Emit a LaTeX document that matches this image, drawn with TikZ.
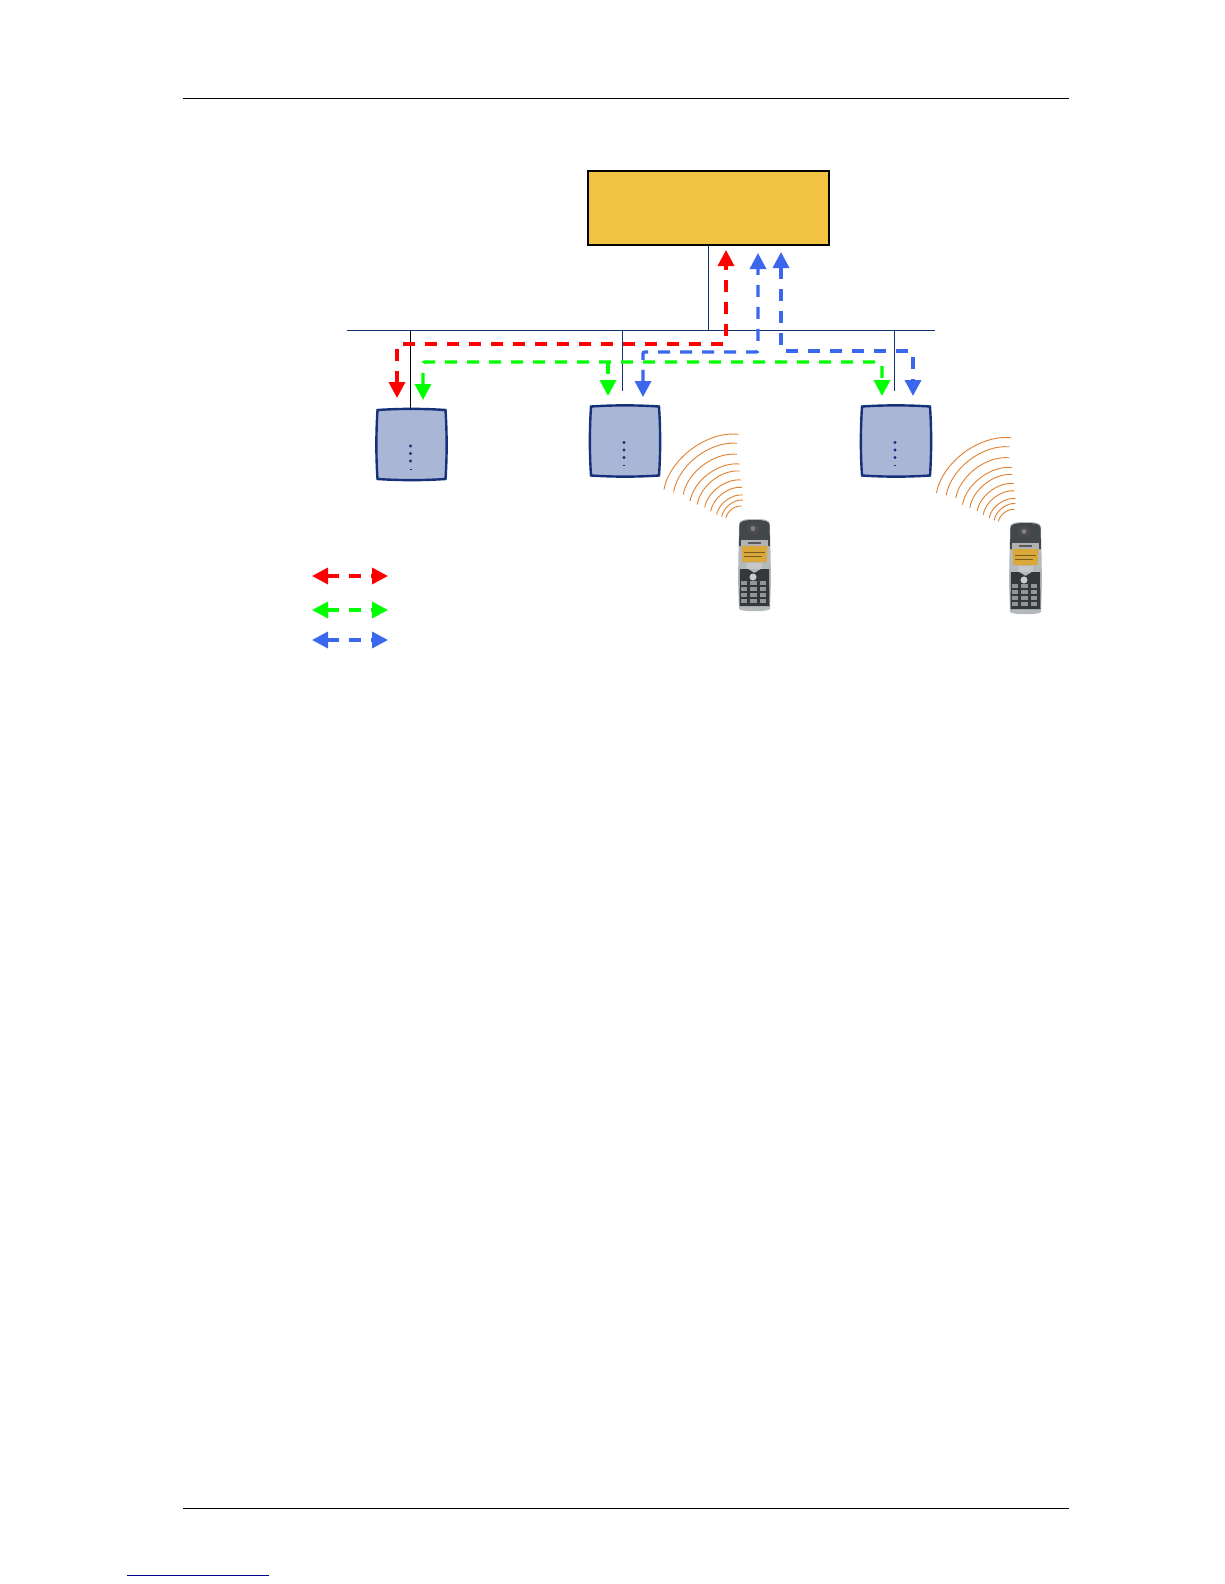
\documentclass[tikz,border=0pt]{standalone}
\usetikzlibrary{arrows.meta}
\definecolor{srvfill}{HTML}{F2C342}
\definecolor{netnavy}{HTML}{10306E}
\definecolor{devfill}{HTML}{A9B6D6}
\definecolor{devline}{HTML}{16307A}
\definecolor{arcorange}{HTML}{E0802F}
\definecolor{sigblue}{HTML}{3A67EE}
\definecolor{siggreen}{HTML}{00FF00}
\definecolor{sigred}{HTML}{FF0000}
\definecolor{phdark}{HTML}{42474A}
\definecolor{phkey}{HTML}{33383B}
\definecolor{phsilver}{HTML}{B4B9BC}
\definecolor{phscreen}{HTML}{D9A838}
\tikzset{
  rule/.style={line width=.8pt,black},
  linkrule/.style={line width=1pt,color=blue!55!black},
  net/.style={line width=1pt,netnavy},
  drop/.style={line width=1pt,black!85!netnavy},
  signal/.style={line width=3.4pt,line cap=butt,rounded corners=2pt,dash pattern=on 12pt off 10pt},
  onehead/.style={-{Triangle[length=16pt,width=16pt]}},
  twohead/.style={{Triangle[length=16pt,width=16pt]}-{Triangle[length=16pt,width=16pt]}},
  wave/.style={line width=.9pt,arcorange,line cap=round},
  anchorbox/.style={minimum width=69pt,minimum height=71pt,inner sep=0pt,outer sep=0pt},
  devicepic/.pic={
    \draw[line width=2.4pt,devline,fill=devfill]
      (0.5,1) .. controls (23,-0.5) and (46,-0.5) .. (68.5,1)
      .. controls (70,24) and (70,48) .. (68.5,70)
      .. controls (46,71.5) and (23,71.5) .. (0.5,70)
      .. controls (-1,48) and (-1,24) .. (0.5,1) -- cycle;
    \foreach \yy in {37,44.5,52} \fill[devline] (33.5,\yy) circle[radius=1.6pt];
    \draw[devline,line width=.8pt] (32.5,60) -- (34.5,60);
  },
  wavespic/.pic={
    \foreach \sx/\sy/\ex/\ey in {664/489.3/738.3/434.3,673.7/491.7/736.7/443.3,683.3/494.3/736.7/454.3,690/501/739.3/464,697.3/504.3/739.3/471,704.7/507.3/741/480,710.7/511/741.7/487.3,716.7/514.3/742.7/495,721.7/516.7/742.7/500,726/517.7/741.7/506}{
      \pgfmathsetmacro{\ddx}{\ex-\sx}
      \pgfmathsetmacro{\ddy}{\ey-\sy}
      \pgfmathsetmacro{\cax}{\sx+.25*\ddx+.23*\ddy}
      \pgfmathsetmacro{\cay}{\sy+.25*\ddy-.23*\ddx}
      \pgfmathsetmacro{\cbx}{\sx+.75*\ddx+.23*\ddy}
      \pgfmathsetmacro{\cby}{\sy+.75*\ddy-.23*\ddx}
      \draw[wave] (\sx,\sy) .. controls (\cax,\cay) and (\cbx,\cby) .. (\ex,\ey);
    }
  },
  phonepic/.pic={
    \fill[phsilver] (1,5) .. controls (1,1) and (6,0) .. (16.5,0) .. controls (27,0) and (32,1) .. (32,5)
      -- (33,60) -- (32,90) .. controls (30,93) and (3,93) .. (1,90) -- (0,60) -- cycle;
    \fill[phdark] (1.5,6) .. controls (1.5,2) and (7,1) .. (16.5,1) .. controls (26,1) and (31.5,2) .. (31.5,6)
      -- (32,27) -- (1,27) -- cycle;
    \fill[black!70] (15,9.5) circle[radius=6pt];
    \fill[black!50] (15,9.5) circle[radius=2.5pt];
    \fill[black!30] (3,21) rectangle (30,27);
    \fill[black!65] (10,22.5) rectangle (23,24.5);
    \fill[phscreen] (3.5,27) -- (29.5,27) -- (28.5,43) -- (4.5,43) -- cycle;
    \fill[black!45!phscreen] (6,33) rectangle (27,34);
    \fill[black!45!phscreen] (6,37) rectangle (24,37.8);
    \fill[phkey] (2,50) -- (10,50) -- (16.5,54) -- (23,50) -- (31,50) -- (31.5,87) -- (1.5,87) -- cycle;
    \fill[white!80!black] (15,58) circle[radius=3.5pt];
    \fill[black!22] (9,44) rectangle (24,50);
    \foreach \ky in {64,70,76,82}
      \foreach \kx in {6,15.5,25}
        \fill[black!42] (\kx-3.2,\ky-1.6) rectangle (\kx+3.2,\ky+1.6);
  },
}
\begin{document}
\begin{tikzpicture}[x=1pt,y=-1pt]
\useasboundingbox (0,0) rectangle (1224,1584);

% page rules
\coordinate (headL) at (183,98);   \coordinate (headR) at (1069,98);
\coordinate (footL) at (183,1508); \coordinate (footR) at (1069,1508);
\coordinate (linkL) at (127,1575); \coordinate (linkR) at (269,1575);
\draw[rule] (headL) -- (headR);
\draw[rule] (footL) -- (footR);
\draw[linkrule] (linkL) -- (linkR);

% server
\node[draw=black,line width=2.2pt,fill=srvfill,minimum width=241pt,minimum height=74pt,inner sep=0pt,outer sep=0pt] (srv) at (708.5,208) {};

% access points
\node[anchorbox] (ap1) at (411.5,444.5) {};
\node[anchorbox] (ap2) at (625,441) {};
\node[anchorbox] (ap3) at (896,441) {};
\pic at (ap1.north west) {devicepic};
\pic at (ap2.north west) {devicepic};
\pic at (ap3.north west) {devicepic};

% network
\coordinate (busL) at (347,330); \coordinate (busR) at (935,330);
\coordinate (tap1) at (410,330); \coordinate (tap2) at (622,330); \coordinate (tap3) at (894,330);
\coordinate (end2) at (622,391); \coordinate (end3) at (894,391);
\draw[net] (busL) -- (busR);
\draw[net] (srv.south) -- (srv.south |- busL);
\draw[drop] (tap1) -- (tap1 |- ap1.north);
\draw[net] (tap2) -- (end2);
\draw[net] (tap3) -- (end3);

% signal paths
\coordinate (redA) at (397,398);  \coordinate (redB) at (726,250);
\coordinate (grnA) at (423,400);  \coordinate (grnB) at (882,396);
\coordinate (grnT) at (608,362);  \coordinate (grnC) at (608,396);
\coordinate (bluA) at (643,397);  \coordinate (bluB) at (758,253);
\coordinate (bl2A) at (781,252);  \coordinate (bl2B) at (913,396);
\draw[signal,twohead,sigred] (redA) -- (397,344) -- (726,344) -- (redB);
\draw[signal,twohead,siggreen] (grnA) -- (423,362) -- (882,362) -- (grnB);
\draw[signal,onehead,siggreen] (grnT) -- (grnC);
\draw[signal,twohead,sigblue] (bluA) -- (643,352) -- (758,352) -- (bluB);
\draw[signal,twohead,sigblue] (bl2A) -- (781,351) -- (913,351) -- (bl2B);

% radio waves and handsets
\pic at (0,0) {wavespic};
\pic at (272.5,3.5) {wavespic};
\pic at (738,519) {phonepic};
\pic at (1009,522) {phonepic};

% legend
\coordinate (legRa) at (312,576); \coordinate (legRb) at (388,576);
\coordinate (legGa) at (312,610); \coordinate (legGb) at (388,610);
\coordinate (legBa) at (312,640); \coordinate (legBb) at (388,640);
\draw[signal,twohead,sigred] (legRa) -- (legRb);
\draw[signal,twohead,siggreen] (legGa) -- (legGb);
\draw[signal,twohead,sigblue] (legBa) -- (legBb);
\end{tikzpicture}
\end{document}
